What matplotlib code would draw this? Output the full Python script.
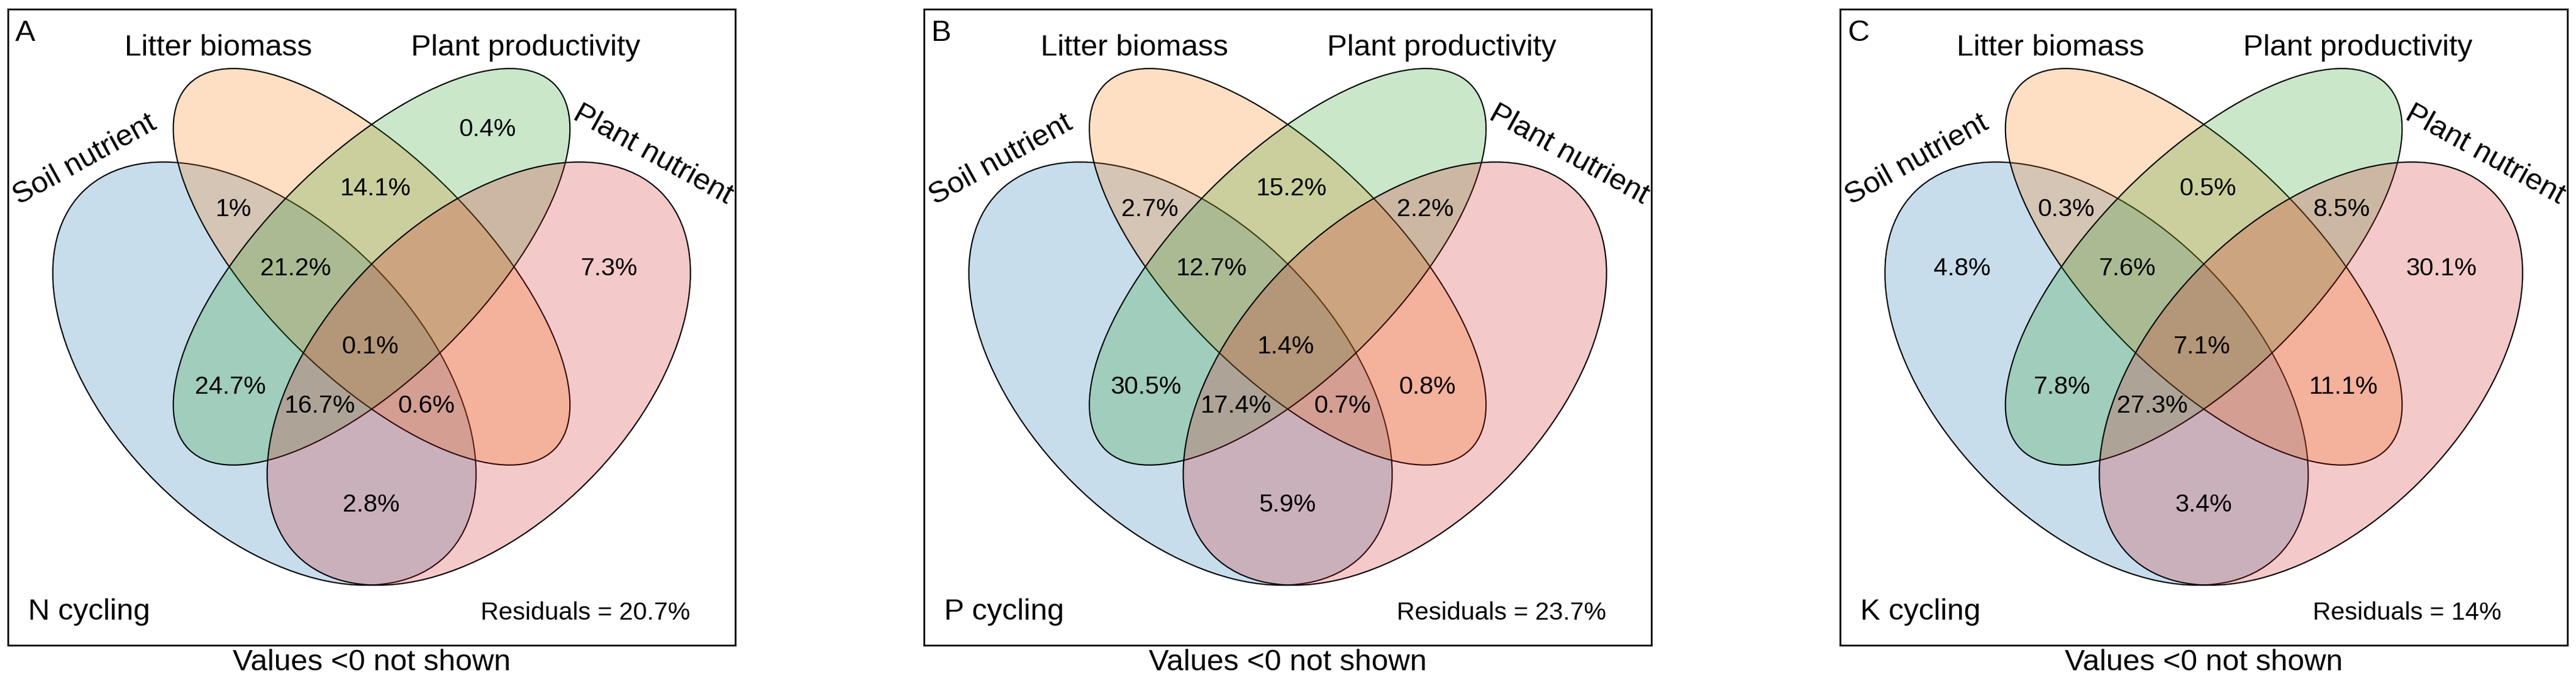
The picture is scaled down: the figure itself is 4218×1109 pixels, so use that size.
import matplotlib
matplotlib.use("Agg")
import matplotlib.pyplot as plt
from matplotlib.patches import Ellipse
from matplotlib.colors import to_rgba

plt.rcParams['font.family'] = ['Liberation Sans', 'DejaVu Sans']

# ---------------- data ----------------
set_names = ["Soil nutrient", "Litter biomass", "Plant productivity", "Plant nutrient"]
panel_letters = ["A", "B", "C"]
cycling_names = ["N cycling", "P cycling", "K cycling"]
residuals = [20.7, 23.7, 14]

# fraction codes: S = Soil nutrient, L = Litter biomass, P = Plant productivity, N = Plant nutrient
regions = ["S", "L", "P", "N", "SL", "SP", "SN", "LP", "LN", "PN",
           "SLP", "SLN", "SPN", "LPN", "SLPN"]
n_cycling = [None, None, 0.4, 7.3, 1, 24.7, 2.8, 14.1, None, None,
             21.2, 0.6, 16.7, None, 0.1]
p_cycling = [None, None, None, None, 2.7, 30.5, 5.9, 15.2, 0.8, 2.2,
             12.7, 0.7, 17.4, None, 1.4]
k_cycling = [4.8, None, None, 30.1, 0.3, 7.8, 3.4, 0.5, 11.1, 8.5,
             7.6, None, 27.3, None, 7.1]
panel_values = [n_cycling, p_cycling, k_cycling]

# ---------------- layout ----------------
W, H = 4218, 1109
BOX_W, BOX_H = 1191, 1042
box_lefts = [13, 1513, 3013]
BOX_TOP = 15

label_pos = {
    "S": (200, 425), "L": (406, 197), "P": (785, 197), "N": (985, 425),
    "SL": (370, 328), "PN": (821, 328), "LP": (602, 294),
    "SLP": (471, 425), "LPN": (720, 425), "SLPN": (593, 553),
    "SP": (364, 619), "LN": (824, 619), "SPN": (511, 650),
    "SLN": (685, 650), "SN": (595, 812),
}

fill_cols = ['#1f77b4', '#ff7f0e', '#2ca02c', '#d62728']
ALPHA = 0.247
ellipses = [  # (cx, cy, width, height, angle) in panel pixel units (y downwards)
    (420, 597, 842, 502, 45),
    (595.5, 422, 846, 358, 45),
    (595.5, 422, 846, 358, -45),
    (771, 597, 842, 502, -45),
]

BIG = 35.5
SMALL = 29.5

fig = plt.figure(figsize=(W / 100, H / 100), dpi=100)

for k in range(3):
    ax = fig.add_axes([box_lefts[k] / W, (H - BOX_TOP - BOX_H) / H, BOX_W / W, BOX_H / H])
    ax.set_xlim(0, BOX_W)
    ax.set_ylim(BOX_H, 0)
    ax.set_xticks([])
    ax.set_yticks([])
    for sp in ax.spines.values():
        sp.set_linewidth(2.0)
        sp.set_color('black')

    for (cx, cy, w, h, ang), col in zip(ellipses, fill_cols):
        e = Ellipse((cx, cy), w, h, angle=ang, facecolor=to_rgba(col, ALPHA),
                    edgecolor='black', linewidth=1.5, zorder=2)
        ax.add_patch(e)

    vals = panel_values[k]
    for code, v in zip(regions, vals):
        if v is None:
            continue
        x, y = label_pos[code]
        ax.text(x, y, f"{v:g}%", fontsize=SMALL, ha='center', va='center', zorder=5)

    # set labels
    ax.text(344, 76, set_names[1], fontsize=BIG, ha='center', va='baseline')
    ax.text(848, 76, set_names[2], fontsize=BIG, ha='center', va='baseline')
    ax.text(132, 258, set_names[0], fontsize=BIG, ha='center', va='baseline',
            rotation=29, rotation_mode='anchor')
    ax.text(1050, 249, set_names[3], fontsize=BIG, ha='center', va='baseline',
            rotation=-29, rotation_mode='anchor')

    ax.text(12, 52, panel_letters[k], fontsize=BIG, ha='left', va='baseline')
    ax.text(33, 1000, cycling_names[k], fontsize=BIG, ha='left', va='baseline')
    ax.text(774, 1000, f"Residuals = {residuals[k]:g}%", fontsize=SMALL,
            ha='left', va='baseline')

    fig.text((box_lefts[k] + BOX_W / 2) / W, (H - 1098) / H, "Values <0 not shown",
             fontsize=BIG, ha='center', va='baseline')

fig.savefig("out.png", dpi=100)
